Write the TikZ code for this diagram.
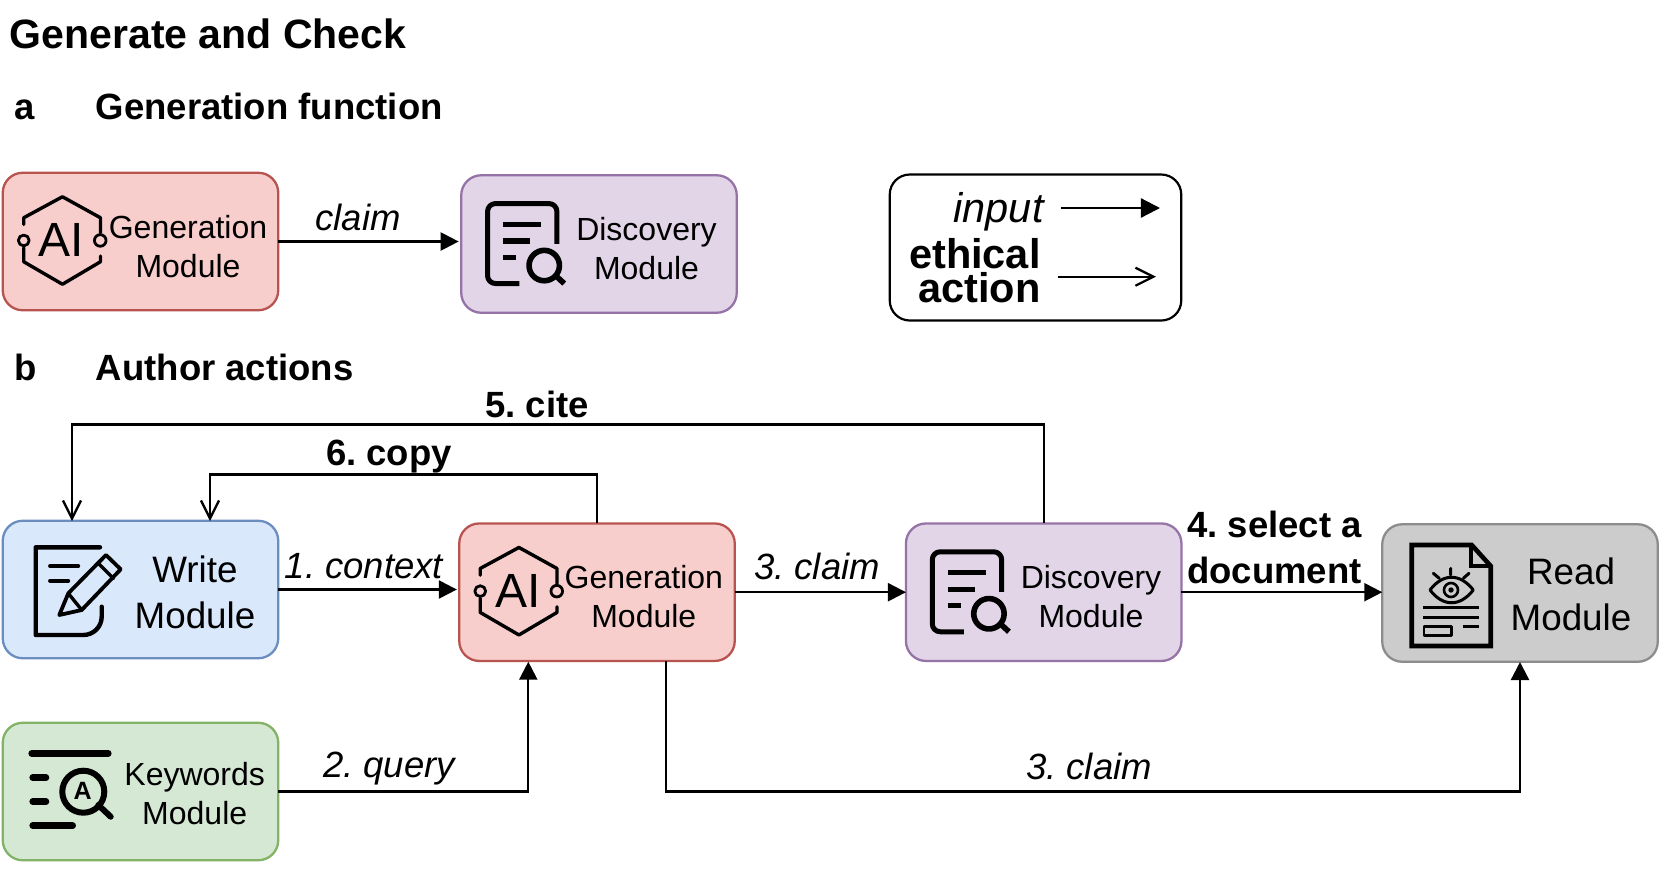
\documentclass[tikz,border=0pt]{standalone}
\usepackage{fontspec}
\setmainfont{Liberation Sans}
\usetikzlibrary{arrows.meta,calc}
\definecolor{redF}{HTML}{F8CECC}\definecolor{redD}{HTML}{B85450}
\definecolor{purF}{HTML}{E1D5E7}\definecolor{purD}{HTML}{9673A6}
\definecolor{bluF}{HTML}{DAE8FC}\definecolor{bluD}{HTML}{6C8EBF}
\definecolor{greF}{HTML}{D5E8D4}\definecolor{greD}{HTML}{82B366}
\definecolor{gryF}{HTML}{CCCCCC}\definecolor{gryD}{HTML}{8C8C8C}
\frenchspacing
\tikzset{
  modbox/.style={rectangle,rounded corners=10pt,inner sep=0pt,outer sep=0pt,line width=1.15pt,minimum width=137.75pt,minimum height=68.75pt},
  legbox/.style={rectangle,rounded corners=10pt,inner sep=0pt,outer sep=0pt,line width=1.1pt,draw=black,fill=white,minimum width=145.75pt,minimum height=73pt},
  txtS/.style={anchor=base,align=center,inner sep=0pt,font=\fontsize{16}{19.4}\selectfont},
  txtL/.style={anchor=base,align=center,inner sep=0pt,font=\fontsize{18.4}{23}\selectfont},
  lab/.style={anchor=base,inner sep=0pt,font=\fontsize{18.25}{22}\selectfont\itshape},
  labB/.style={anchor=base,align=center,inner sep=0pt,font=\fontsize{18.25}{22.75}\selectfont\bfseries},
  head/.style={anchor=base west,inner sep=0pt,font=\fontsize{18.25}{22}\selectfont\bfseries},
  conn/.style={line width=1.15pt,draw=black,-{Triangle[length=9pt,width=9pt]}},
  connE/.style={line width=1.15pt,draw=black,-{Straight Barb[length=9pt,width=9pt]}},
  icon/.style={draw=black,line width=2pt,line cap=round,line join=round,fill=none},
  pics/aimark/.style={code={
    \draw[icon,line width=1.7pt] (21,51.7) -- (21,45) -- (59.7,24) -- (97.7,45) -- (97.7,60);
    \draw[icon,line width=1.7pt] (21,75) -- (21,89) -- (59.7,111.5) -- (97.7,89) -- (97.7,83.3);
    \draw[icon,line width=1.4pt] (21,67.7) circle[radius=5.4];
    \draw[icon,line width=1.4pt] (97.5,67.7) circle[radius=5.8];
    \node[inner sep=0pt,font=\fontsize{24}{24}\selectfont] at (58.5,67.7) {AI};
  }},
  pics/discmark/.style={code={
    \draw[icon,line width=2.5pt,rounded corners=4pt,line cap=butt] (95.7,68.5) -- (95.7,28.3) -- (26.3,28.3) -- (26.3,108.3) -- (58,108.3);
    \draw[icon,line width=2.6pt,line cap=butt] (41.7,49) -- (79.7,49);
    \draw[icon,line width=2.6pt,line cap=butt] (41.7,65.7) -- (69,65.7);
    \draw[icon,line width=2.6pt,line cap=butt] (41.7,82.3) -- (54.7,82.3);
    \draw[icon,line width=2.8pt] (83,90.3) circle[radius=15.2];
    \draw[icon,line width=2.8pt,line cap=butt] (94,100) -- (103,108.3);
  }}
}
\begin{document}
\begin{tikzpicture}[x=0.5pt,y=-0.5pt]
\useasboundingbox (0,0) rectangle (1661,869);
% headings
\node[anchor=base west,inner sep=0pt,font=\fontsize{20.5}{24}\selectfont\bfseries] (title) at (9.5,48) {Generate and Check};
\node[head] (hA) at (14.5,119.5) {a};
\node[head] (hAt) at (95.5,119.5) {Generation function};
\node[head] (hB) at (14.5,380) {b};
\node[head] (hBt) at (95.5,380) {Author actions};
% boxes row a
\node[modbox,fill=redF,draw=redD] (gA) at (140.5,241.5) {};
\node[modbox,fill=purF,draw=purD] (dA) at (599,244) {};
% legend
\node[legbox] (leg) at (1035.5,247.5) {};
% boxes row b
\node[modbox,fill=bluF,draw=bluD] (wr) at (140.5,589.5) {};
\node[modbox,fill=redF,draw=redD] (gB) at (597,592.2) {};
\node[modbox,fill=purF,draw=purD] (dB) at (1043.7,592.2) {};
\node[modbox,fill=gryF,draw=gryD] (rd) at (1520,593) {};
\node[modbox,fill=greF,draw=greD] (kw) at (140.5,791.5) {};
% box texts
\node[txtS] (gAt) at (188,277) {Generation\\Module};
\node[txtS] (dAt) at (646.5,279.3) {Discovery\\Module};
\node[txtL] (wrt) at (195,628) {Write\\Module};
\node[txtS] (gBt) at (643.8,627.7) {Generation\\Module};
\node[txtS] (dBt) at (1091,627.7) {Discovery\\Module};
\node[txtL] (rdt) at (1571,630) {Read\\Module};
\node[txtS] (kwt) at (194.7,824) {Keywords\\Module};
% icons
\pic at (gA.north west) {aimark};
\pic at (gB.north west) {aimark};
\pic at (dA.north west) {discmark};
\pic at (dB.north west) {discmark};
% write icon
\draw[icon,line width=2.2pt] (100,547.3) -- (35.7,547.3) -- (35.7,635) -- (83.3,635) to[out=0,in=-90] (101.7,616.7) -- (101.7,606.7);
\draw[icon,line width=1.9pt] (50,566) -- (78.3,566) (50,580.7) -- (68.3,580.7);
\draw[icon,line width=1.9pt] (59.3,615) -- (68.3,593.3) -- (106,555) -- (120.7,569.3) -- (81.7,610) -- cycle;
\draw[icon,line width=1.7pt] (68.3,593.3) -- (81.7,610) (98.3,563.3) -- (113.3,578.3);
% read icon
\draw[icon,line width=2.3pt,line join=miter,line cap=butt] (1471.7,545) -- (1411.7,545) -- (1411.7,646) -- (1490.7,646) -- (1490.7,566) -- cycle;
\draw[icon,line width=1.9pt,line join=miter] (1471,546) -- (1471,566) -- (1490,566);
\draw[icon,line width=1.5pt] (1450.7,568.3) -- (1450.7,575) (1433.3,573.3) -- (1439.3,578.3) (1469,573.3) -- (1463.3,578.3);
\draw[icon,line width=1.5pt] (1430,590) .. controls (1443,573) and (1460,573) .. (1473.3,590) .. controls (1460,607) and (1443,607) .. (1430,590) -- cycle;
\draw[icon,line width=1.3pt] (1451,590) circle[radius=7];
\fill (1451,590) circle[radius=2.7];
\draw[icon,line width=1.5pt,line cap=butt] (1423.3,607.7) -- (1479.3,607.7) (1423.3,617) -- (1479.3,617) (1463.3,626.7) -- (1479.3,626.7);
\draw[icon,line width=1.4pt] (1424,626.7) rectangle (1451.7,635.3);
% keywords icon
\draw[icon,line width=3.3pt] (31.7,753.3) -- (108.3,753.3);
\draw[icon,line width=3.3pt] (32.7,777.7) -- (46,777.7) (32.7,801.7) -- (46,801.7) (32.7,825.7) -- (72.7,825.7);
\draw[icon,line width=3pt] (83.3,791.7) circle[radius=21];
\draw[icon,line width=3pt] (98.3,805) -- (110.7,816.7);
\node[inner sep=0pt,font=\fontsize{12.5}{12.5}\selectfont\bfseries] (kwA) at (82.7,791) {A};
% free ends
\coordinate (wrA) at (72,521);
\coordinate (wrB) at (210,521);
\coordinate (gBin) at (528.3,661.7);
\coordinate (gBout) at (665.7,661);
\coordinate (rdin) at (1520,662);
\coordinate (li0) at (1061,208);
\coordinate (li1) at (1160,208);
\coordinate (le0) at (1057.7,276.7);
\coordinate (le1) at (1156,276.7);
% connectors
\draw[conn,shorten >=1.3pt] (gA.east) -- (gA.east -| dA.west);
\draw[conn,shorten >=1.2pt] (wr.east) -- (wr.east -| gB.west);
\draw[conn] (gB.east) -- (dB.west);
\draw[conn] (dB.east) -- (dB.east -| rd.west);
\draw[conn] (kw.east) -| (gBin);
\draw[conn] (gBout) -- ++(0,130.5) -| (rdin);
\draw[connE] (dB.north) -- ++(0,-99) -| (wrA);
\draw[connE] (gB.north) -- ++(0,-49) -| (wrB);
\draw[conn,-{Triangle[length=9.6pt,width=9.6pt]}] (li0) -- (li1);
\draw[connE] (le0) -- (le1);
% labels
\node[lab] (lclaim) at (358,230) {claim};
\node[lab] (lctx) at (364,578) {1. context};
\node[lab] (lclaim2) at (817,579) {3. claim};
\node[lab] (lquery) at (389,777) {2. query};
\node[lab] (lclaim3) at (1089,779.6) {3. claim};
\node[labB] (lcite) at (537,417) {5. cite};
\node[labB] (lcopy) at (389,465) {6. copy};
\node[labB] (lsel) at (1274.5,583) {4. select a\\document};
\node[anchor=base east,inner sep=0pt,font=\fontsize{20.75}{25}\selectfont\itshape] (linput) at (1044,222.7) {input};
\node[anchor=base east,align=right,inner sep=0pt,font=\fontsize{20.75}{17.3}\selectfont\bfseries] (leth) at (1041,302.7) {ethical\\action};
\end{tikzpicture}
\end{document}
